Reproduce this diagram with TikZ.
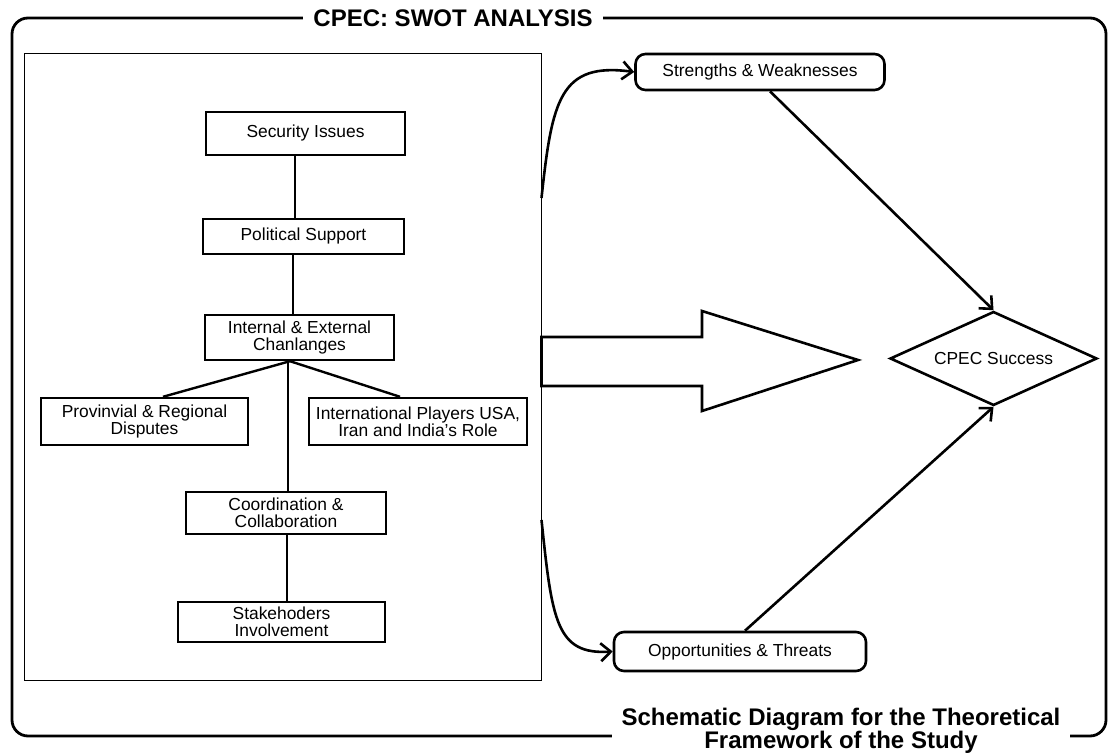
\documentclass[tikz,border=0pt]{standalone}
\usepackage{fontspec}
\setmainfont{Liberation Sans}
\usetikzlibrary{arrows.meta,shapes.geometric}
\begin{document}
\begin{tikzpicture}[x=0.5pt,y=-0.5pt,
    every node/.style={font=\fontsize{8.7}{8.6}\selectfont},
    box/.style={draw, line width=1.2pt, align=center, inner sep=1pt},
    rbox/.style={draw, line width=1.3pt, rounded corners=5pt, inner sep=1pt},
    link/.style={line width=1.2pt},
    flow/.style={line width=1.3pt, -{Straight Barb[length=5pt,width=9pt]}},
    heading/.style={fill=white, font=\bfseries\fontsize{12}{11.5}\selectfont, align=center, inner xsep=5pt, inner ysep=0pt}]
    \useasboundingbox (0,0) rectangle (1108,753);

    % Outer frame
    \draw[line width=1.4pt, rounded corners=8pt] (12,18) rectangle (1106,736);
    \node[heading] (title) at (453,18) {CPEC: SWOT ANALYSIS};
    \node[heading] (caption) at (841,731) {Schematic Diagram for the Theoretical\\Framework of the Study};

    % Left panel
    \node[draw, line width=0.5pt, minimum width=258.5pt, minimum height=313pt, inner sep=0pt] (panel) at (282.5,367) {};

    % Factor boxes
    \node[box, minimum width=99.5pt, minimum height=21.5pt] (sec) at (305.5,133.5) {Security Issues};
    \node[box, minimum width=100.5pt, minimum height=17.5pt] (pol) at (303.5,236.5) {Political Support};
    \node[box, minimum width=94.5pt, minimum height=22.5pt] (ie) at (299.5,337.5) {Internal \& External\\Chanlanges};
    \node[box, minimum width=103.5pt, minimum height=23.5pt] (prov) at (144.5,421.5) {Provinvial \& Regional\\Disputes};
    \node[box, minimum width=109pt, minimum height=23.5pt] (intl) at (418,421.5) {International Players USA,\\Iran and India's Role};
    \node[box, minimum width=100pt, minimum height=21pt] (coord) at (286,513) {Coordination \&\\Collaboration};
    \node[box, minimum width=103.5pt, minimum height=20pt] (stake) at (281.5,622) {Stakehoders\\Involvement};

    % Tree links
    \draw[link] (sec.south -| 295,0) -- (pol.north -| 295,0);
    \draw[link] (pol.south -| 293,0) -- (ie.north -| 293,0);
    \draw[link] (ie.south -| 290,0) -- (prov.north -| 163,0);
    \draw[link] (ie.south -| 290,0) -- (intl.north -| 400,0);
    \draw[link] (ie.south -| 288,0) -- (coord.north -| 288,0);
    \draw[link] (coord.south -| 287,0) -- (stake.north -| 287,0);

    % Big arrow
    \draw[line width=1.3pt] (panel.east |- 0,337) -- (702,337) -- (702,311) -- (858,360)
        -- (702,411) -- (702,386) -- (panel.east |- 0,386) -- cycle;

    % SWOT outcomes
    \node[rbox, minimum width=124.5pt, minimum height=18pt] (sw) at (760,72) {Strengths \& Weaknesses};
    \node[rbox, minimum width=126pt, minimum height=19.5pt] (ot) at (740,651.5) {Opportunities \& Threats};
    \node[draw, diamond, aspect=2.2, minimum width=103.5pt, minimum height=47pt, inner sep=0pt, line width=1.3pt] (cpec) at (993.5,358.5) {CPEC Success};

    % Arrows
    \draw[flow] (panel.east |- 0,198) .. controls (552,100) and (560,62) .. (sw.west);
    \draw[flow] (panel.east |- 0,520) .. controls (552,620) and (556,655) .. (ot.west);
    \draw[flow] (sw.south -| 770,0) -- (cpec.north);
    \draw[flow] (ot.north -| 745,0) -- (cpec.south);
\end{tikzpicture}
\end{document}
